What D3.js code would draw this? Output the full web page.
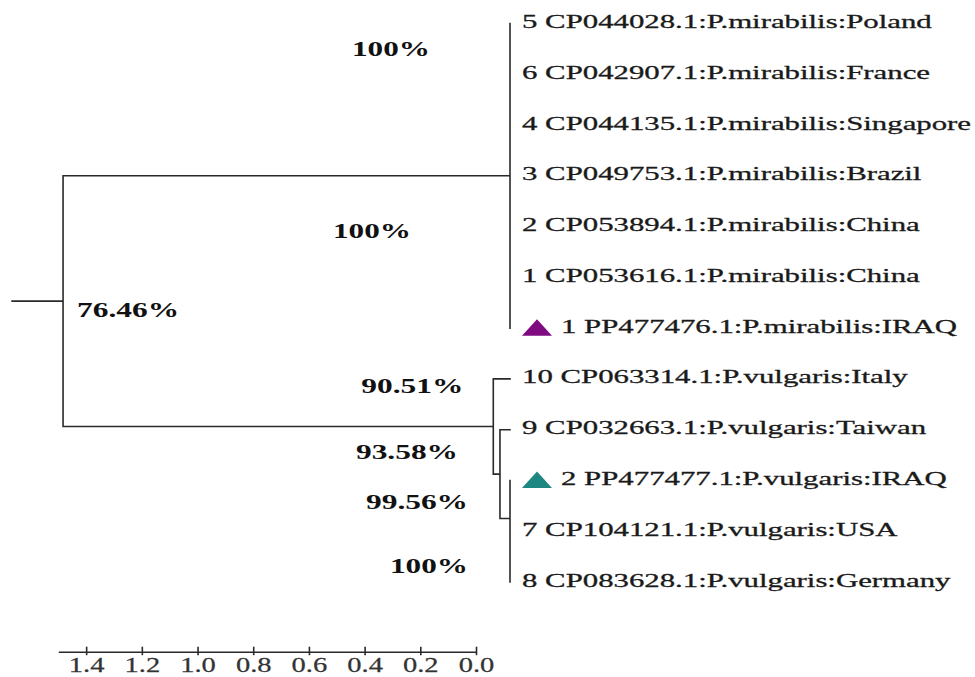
<!DOCTYPE html>
<html><head><meta charset="utf-8">
<script src="https://cdn.jsdelivr.net/npm/d3@7"></script>
<style>html,body{margin:0;padding:0;background:#fff;} svg{display:block}</style>
</head><body>
<svg id="chart" width="975" height="677"></svg>
<script>
// ---------------- data ----------------
const leafNames = [
  "5 CP044028.1:P.mirabilis:Poland",
  "6 CP042907.1:P.mirabilis:France",
  "4 CP044135.1:P.mirabilis:Singapore",
  "3 CP049753.1:P.mirabilis:Brazil",
  "2 CP053894.1:P.mirabilis:China",
  "1 CP053616.1:P.mirabilis:China",
  "1 PP477476.1:P.mirabilis:IRAQ",
  "10 CP063314.1:P.vulgaris:Italy",
  "9 CP032663.1:P.vulgaris:Taiwan",
  "2 PP477477.1:P.vulgaris:IRAQ",
  "7 CP104121.1:P.vulgaris:USA",
  "8 CP083628.1:P.vulgaris:Germany"
];
const leafParents = ["mirA","mirA","mirA","mir","mirB","mirB","mirB","vA","vB","vC","vD","vD"];
const markedLeaves = ["1 PP477476.1:P.mirabilis:IRAQ", "2 PP477477.1:P.vulgaris:IRAQ"];
const nodeIds      = ["root", "mir", "mirA", "mirB", "vA", "vB", "vC", "vD"];
const nodeParents  = ["", "root", "mir", "mir", "root", "vA", "vB", "vC"];
const nodeHeights  = [1.605, 0, 0, 0, 0.060, 0.036, 0, 0];
const nodeSupport  = ["76.46%", "", "100%", "100%", "90.51%", "93.58%", "99.56%", "100%"];
const rootBranch = 0.183;
const axisTicks = [1.4, 1.2, 1.0, 0.8, 0.6, 0.4, 0.2, 0.0];
const axisDomain = [0, 1.5];

// ---------------- layout / style ----------------
const markerColors = ["#800a80", "#1f8782"];
const supportLayout = {
  root: {dx: 14,  dy: 15.8,  anchor: "start"},
  mirA: {dx: -80, dy: -17.8, anchor: "end"},
  mirB: {dx: -99, dy: -39.4, anchor: "end"},
  vA:   {dx: -30, dy: -33.5, anchor: "end"},
  vB:   {dx: -42, dy: -15,   anchor: "end"},
  vC:   {dx: -42, dy: -9.5,  anchor: "end"},
  vD:   {dx: -42, dy: 16.5,  anchor: "end"}
};
const svg = d3.select("#chart");
const x = d3.scaleLinear().domain(axisDomain).range([476, 58.3]);
const treeShift = 34;
const tx = h => x(h) + treeShift;
const y = d3.scalePoint().domain(leafNames).range([23.5, 582]);

// build hierarchy
const rows = nodeIds.map((id, i) => ({id, parentId: nodeParents[i], height: nodeHeights[i], support: nodeSupport[i]}))
  .concat(leafNames.map((n, i) => ({id: n, parentId: leafParents[i], height: 0, leafIndex: i})));
const root = d3.stratify().id(d => d.id).parentId(d => d.parentId || null)(rows);
root.eachAfter(n => { n.minLeaf = n.children ? d3.min(n.children, c => c.minLeaf) : n.data.leafIndex; });
root.sort((a, b) => a.minLeaf - b.minLeaf);
root.eachAfter(n => {
  n.py = n.children ? (n.children[0].py + n.children[n.children.length - 1].py) / 2 : y(n.data.id);
  n.px = tx(n.data.height);
});

// branches
const gTree = svg.append("g").attr("fill", "none").attr("stroke", "#2a2a2a").attr("stroke-width", 1.6).attr("stroke-linecap", "square");
const p = d3.path();
root.each(n => {
  if (n.children) {
    p.moveTo(n.px, n.children[0].py);
    p.lineTo(n.px, n.children[n.children.length - 1].py);
  }
  if (n.parent && n.px !== n.parent.px) {
    p.moveTo(n.parent.px, n.py);
    p.lineTo(n.px, n.py);
  }
});
p.moveTo(tx(root.data.height + rootBranch), root.py);
p.lineTo(root.px, root.py);
gTree.append("path").attr("d", p.toString());

// leaf labels and markers
const leaves = root.leaves();
const gLeaf = svg.append("g");
leaves.forEach(l => {
  const mi = markedLeaves.indexOf(l.data.id);
  let lx = l.px + 12;
  if (mi >= 0) {
    const tp = d3.path();
    tp.moveTo(lx, l.py + 7.5);
    tp.lineTo(lx + 15, l.py - 9);
    tp.lineTo(lx + 30, l.py + 7.5);
    tp.closePath();
    gLeaf.append("path").attr("d", tp.toString()).attr("fill", markerColors[mi]);
    lx += 39;
  }
  gLeaf.append("text")
    .attr("transform", `translate(${lx},${l.py + 4.5}) scale(1.58,1)`)
    .attr("font-family", "'Liberation Serif', 'Times New Roman', serif")
    .attr("font-size", 19.5)
    .attr("fill", "#1a1a1a")
    .attr("stroke", "#1a1a1a")
    .attr("stroke-width", 0.3)
    .text(l.data.id);
});

// support values
const gSup = svg.append("g");
root.descendants().filter(n => n.children && n.data.support).forEach(n => {
  const s = supportLayout[n.data.id];
  const str = n.data.support;
  gSup.append("text")
    .attr("x", n.px + s.dx)
    .attr("y", n.py + s.dy)
    .attr("text-anchor", s.anchor)
    .attr("font-family", "'Liberation Serif', 'Times New Roman', serif")
    .attr("font-weight", "bold")
    .attr("font-size", 20.5)
    .attr("fill", "#111")
    .attr("textLength", 12 * str.length + 30)
    .attr("lengthAdjust", "spacingAndGlyphs")
    .text(str);
});

// scale axis
const axis = d3.axisBottom(x).tickValues(axisTicks).tickFormat(d3.format(".1f")).tickSizeOuter(0).tickSizeInner(0);
const gAx = svg.append("g").attr("transform", "translate(0,651.7)").call(axis);
gAx.select(".domain").attr("stroke", "#2a2a2a").attr("stroke-width", 1.4);
gAx.selectAll(".tick line").attr("y1", -5).attr("y2", 3.5).attr("stroke", "#2a2a2a").attr("stroke-width", 1.6);
gAx.selectAll(".tick text")
  .attr("y", null).attr("dy", null)
  .attr("transform", "translate(0,20.3) scale(1.36,1)")
  .attr("font-family", "'Liberation Serif', 'Times New Roman', serif")
  .attr("font-size", 21)
  .attr("fill", "#333")
  .attr("stroke", "#333")
  .attr("stroke-width", 0.25);
</script>
</body></html>
